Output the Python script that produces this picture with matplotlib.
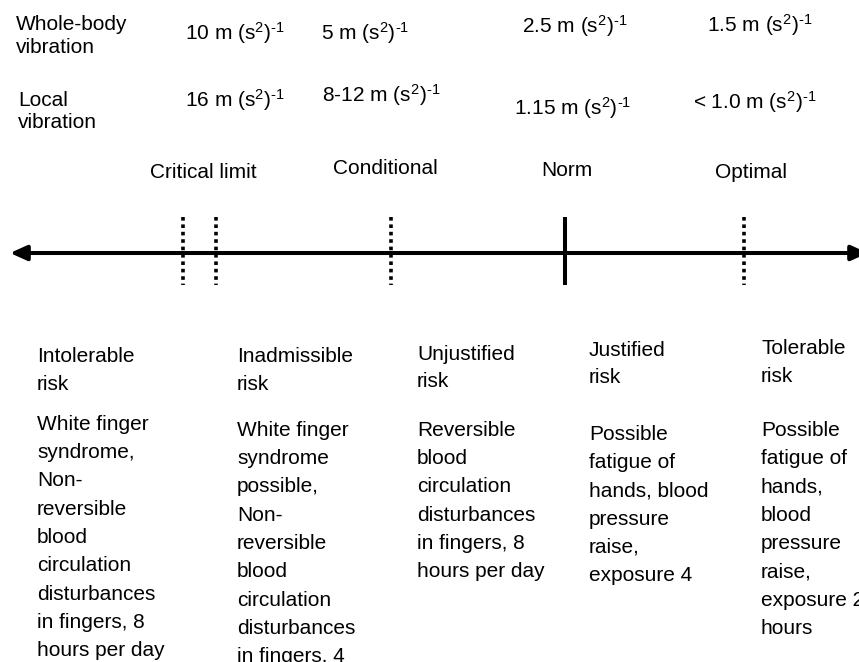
import matplotlib
matplotlib.use("Agg")
import matplotlib.pyplot as plt

plt.rcParams['font.family'] = ['Liberation Sans', 'DejaVu Sans']
plt.rcParams['mathtext.fontset'] = 'custom'
plt.rcParams['mathtext.rm'] = 'Liberation Sans'
plt.rcParams['mathtext.it'] = 'Liberation Sans'

# ---- data ----
row_labels = ["Whole-body\nvibration", "Local\nvibration"]
SUP = r"(s$^{\mathrm{2}}$)$^{\text{-1}}$"
whole_body_values = ["10 m " + SUP, "5 m " + SUP, "2.5 m " + SUP, "1.5 m " + SUP]
local_values = ["16 m " + SUP, "8-12 m " + SUP, "1.15 m " + SUP, "< 1.0 m " + SUP]
level_labels = ["Critical limit", "Conditional", "Norm", "Optimal"]
marker_styles = ["dotted", "dotted", "dotted", "solid", "dotted"]
risk_titles = ["Intolerable\nrisk", "Inadmissible\nrisk", "Unjustified\nrisk",
               "Justified\nrisk", "Tolerable\nrisk"]
risk_descriptions = [
    ["White finger", "syndrome,", "Non-", "reversible", "blood", "circulation",
     "disturbances", "in fingers, 8", "hours per day"],
    ["White finger", "syndrome", "possible,", "Non-", "reversible", "blood",
     "circulation", "disturbances", "in fingers, 4"],
    ["Reversible", "blood", "circulation", "disturbances", "in fingers, 8",
     "hours per day"],
    ["Possible", "fatigue of", "hands, blood", "pressure", "raise,", "exposure 4"],
    ["Possible", "fatigue of", "hands,", "blood", "pressure", "raise,",
     "exposure 2", "hours"],
]

# ---- layout (pixel coordinates) ----
W, H = 859, 662
fig = plt.figure(figsize=(W / 100, H / 100), dpi=100)
ax = fig.add_axes([0, 0, 1, 1])
ax.set_xlim(0, W)
ax.set_ylim(H, 0)
ax.axis('off')

FS = 15
LINE = 22.5

# row labels
row_label_pos = [(16, 23), (18, 98)]
for (x, y), lab in zip(row_label_pos, row_labels):
    for i, ln in enumerate(lab.split("\n")):
        ax.text(x, y + i * LINE, ln, fontsize=FS, va='center_baseline', ha='left')

wb_pos = [(185, 30), (321, 30), (522, 23), (707, 22)]
for (x, y), t in zip(wb_pos, whole_body_values):
    ax.text(x, y, t, fontsize=FS, va='center_baseline', ha='left')
lv_pos = [(185, 97), (322, 92), (514, 105), (693, 99)]
for (x, y), t in zip(lv_pos, local_values):
    ax.text(x, y, t, fontsize=FS, va='center_baseline', ha='left')

level_pos = [(203, 170), (385, 167), (567, 168), (751, 170)]
for (x, y), t in zip(level_pos, level_labels):
    ax.text(x, y, t, fontsize=FS, va='center_baseline', ha='center')

# main axis arrow
axis_y = 253
ax.annotate('', xy=(868, axis_y), xytext=(10, axis_y), annotation_clip=False,
            arrowprops=dict(arrowstyle='<|-|>,head_length=1.0,head_width=0.45',
                            lw=2.9, color='black', mutation_scale=10,
                            shrinkA=0, shrinkB=0))

# threshold markers
marker_x = [183, 216, 391, 565, 744]
for x, st in zip(marker_x, marker_styles):
    if st == "solid":
        ax.plot([x, x], [217, 285], color='black', lw=2.9, solid_capstyle='butt')
    else:
        ax.plot([x, x], [217, 285], color='black', lw=2.6, linestyle=(0, (1, 1.05)))

# risk columns
title_pos = [(37, 355), (237, 355), (417, 352), (589, 348), (761, 347)]
desc_start = [422, 428, 428, 432, 428]
DLINE = 28.35
for (x, y), title, desc, ys in zip(title_pos, risk_titles, risk_descriptions, desc_start):
    for i, ln in enumerate(title.split("\n")):
        ax.text(x, y + i * 27.5, ln, fontsize=FS, va='center_baseline', ha='left')
    for i, ln in enumerate(desc):
        ax.text(x, ys + i * DLINE, ln, fontsize=FS, va='center_baseline', ha='left')

fig.savefig("out.png", dpi=100)
